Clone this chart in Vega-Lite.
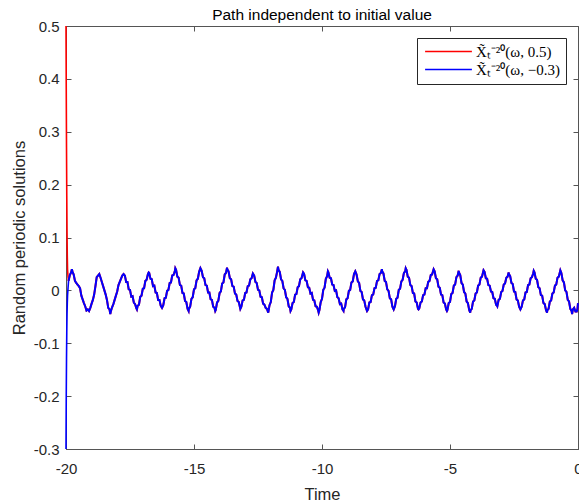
{
"$schema":"https://vega.github.io/schema/vega-lite/v6.json",
"width":512,"height":423,
"autosize":{"type":"none"},
"padding":{"left":66,"top":26,"right":1,"bottom":53},
"background":"white",
"title":{"text":"Path independent to initial value","font":"Liberation Sans","fontSize":15.5,"fontWeight":"normal","color":"#000000","offset":5,"dy":9},
"config":{"view":{"stroke":"#555555","strokeWidth":1},"axis":{"grid":false}},
"datasets":{
"start":[
{"s":"X\u0303\u209c\u207b\u00b2\u2070(\u03c9, 0.5)","t":-20,"y":0.5},
{"s":"X\u0303\u209c\u207b\u00b2\u2070(\u03c9, 0.5)","t":-19.99,"y":0.38},
{"s":"X\u0303\u209c\u207b\u00b2\u2070(\u03c9, 0.5)","t":-19.98,"y":0.27},
{"s":"X\u0303\u209c\u207b\u00b2\u2070(\u03c9, 0.5)","t":-19.97,"y":0.18},
{"s":"X\u0303\u209c\u207b\u00b2\u2070(\u03c9, 0.5)","t":-19.96,"y":0.11},
{"s":"X\u0303\u209c\u207b\u00b2\u2070(\u03c9, 0.5)","t":-19.95,"y":0.065},
{"s":"X\u0303\u209c\u207b\u00b2\u2070(\u03c9, 0.5)","t":-19.94,"y":0.04},
{"s":"X\u0303\u209c\u207b\u00b2\u2070(\u03c9, 0.5)","t":-19.92,"y":0.025},
{"s":"X\u0303\u209c\u207b\u00b2\u2070(\u03c9, 0.5)","t":-19.9,"y":0.018},
{"s":"X\u0303\u209c\u207b\u00b2\u2070(\u03c9, \u22120.3)","t":-20,"y":-0.3},
{"s":"X\u0303\u209c\u207b\u00b2\u2070(\u03c9, \u22120.3)","t":-19.99,"y":-0.2},
{"s":"X\u0303\u209c\u207b\u00b2\u2070(\u03c9, \u22120.3)","t":-19.98,"y":-0.13},
{"s":"X\u0303\u209c\u207b\u00b2\u2070(\u03c9, \u22120.3)","t":-19.97,"y":-0.08},
{"s":"X\u0303\u209c\u207b\u00b2\u2070(\u03c9, \u22120.3)","t":-19.96,"y":-0.045},
{"s":"X\u0303\u209c\u207b\u00b2\u2070(\u03c9, \u22120.3)","t":-19.95,"y":-0.025},
{"s":"X\u0303\u209c\u207b\u00b2\u2070(\u03c9, \u22120.3)","t":-19.94,"y":-0.01},
{"s":"X\u0303\u209c\u207b\u00b2\u2070(\u03c9, \u22120.3)","t":-19.92,"y":0.005},
{"s":"X\u0303\u209c\u207b\u00b2\u2070(\u03c9, \u22120.3)","t":-19.9,"y":0.018}
],
"path":[
{"t":-19.9,"y":0.018},{"t":-19.85,"y":0.029},{"t":-19.8,"y":0.034},{"t":-19.77,"y":0.040},{"t":-19.75,"y":0.036},{"t":-19.7,"y":0.030},{"t":-19.65,"y":0.018},{"t":-19.6,"y":0.014},{"t":-19.55,"y":0.011},{"t":-19.5,"y":0.008},{"t":-19.45,"y":0.004},{"t":-19.4,"y":-0.010},{"t":-19.35,"y":-0.017},{"t":-19.3,"y":-0.024},{"t":-19.25,"y":-0.030},{"t":-19.2,"y":-0.038},{"t":-19.15,"y":-0.036},{"t":-19.1,"y":-0.039},{"t":-19.05,"y":-0.033},{"t":-19.0,"y":-0.025},{"t":-18.95,"y":-0.018},{"t":-18.9,"y":-0.008},{"t":-18.85,"y":0.008},{"t":-18.8,"y":0.025},{"t":-18.75,"y":0.028},{"t":-18.7,"y":0.031},{"t":-18.65,"y":0.024},{"t":-18.6,"y":0.016},{"t":-18.55,"y":0.008},{"t":-18.5,"y":0.000},{"t":-18.45,"y":-0.008},{"t":-18.4,"y":-0.018},{"t":-18.35,"y":-0.033},{"t":-18.3,"y":-0.036},{"t":-18.27,"y":-0.045},{"t":-18.25,"y":-0.040},{"t":-18.2,"y":-0.032},{"t":-18.15,"y":-0.026},{"t":-18.1,"y":-0.018},{"t":-18.05,"y":-0.010},{"t":-18.0,"y":-0.002},{"t":-17.95,"y":0.010},{"t":-17.9,"y":0.016},{"t":-17.85,"y":0.022},{"t":-17.8,"y":0.028},{"t":-17.75,"y":0.031},
{"t":-17.7,"y":0.028},{"t":-17.65,"y":0.016},{"t":-17.6,"y":0.016},{"t":-17.55,"y":0.002},{"t":-17.5,"y":0.001},{"t":-17.45,"y":-0.012},{"t":-17.4,"y":-0.011},{"t":-17.35,"y":-0.023},{"t":-17.3,"y":-0.026},{"t":-17.25,"y":-0.034},{"t":-17.23,"y":-0.036},{"t":-17.2,"y":-0.029},{"t":-17.15,"y":-0.027},{"t":-17.1,"y":-0.012},{"t":-17.05,"y":-0.010},{"t":-17.0,"y":0.003},{"t":-16.95,"y":0.004},{"t":-16.9,"y":0.018},{"t":-16.85,"y":0.020},{"t":-16.8,"y":0.031},{"t":-16.77,"y":0.034},
{"t":-16.75,"y":0.033},{"t":-16.7,"y":0.022},{"t":-16.65,"y":0.021},{"t":-16.6,"y":0.008},{"t":-16.55,"y":0.009},{"t":-16.5,"y":-0.004},{"t":-16.45,"y":-0.005},{"t":-16.4,"y":-0.018},{"t":-16.35,"y":-0.018},{"t":-16.3,"y":-0.029},{"t":-16.25,"y":-0.033},{"t":-16.2,"y":-0.028},{"t":-16.15,"y":-0.015},{"t":-16.1,"y":-0.014},{"t":-16.05,"y":-0.001},{"t":-16.0,"y":0.001},{"t":-15.95,"y":0.014},{"t":-15.9,"y":0.015},{"t":-15.85,"y":0.028},{"t":-15.8,"y":0.029},{"t":-15.75,"y":0.036},{"t":-15.73,"y":0.042},
{"t":-15.7,"y":0.039},{"t":-15.65,"y":0.026},{"t":-15.6,"y":0.024},{"t":-15.55,"y":0.010},{"t":-15.5,"y":0.009},{"t":-15.45,"y":-0.005},{"t":-15.4,"y":-0.006},{"t":-15.35,"y":-0.020},{"t":-15.3,"y":-0.022},{"t":-15.25,"y":-0.035},{"t":-15.21,"y":-0.039},{"t":-15.2,"y":-0.035},{"t":-15.15,"y":-0.031},{"t":-15.1,"y":-0.016},{"t":-15.05,"y":-0.013},{"t":-15.0,"y":0.002},{"t":-14.95,"y":0.004},{"t":-14.9,"y":0.019},{"t":-14.85,"y":0.022},{"t":-14.8,"y":0.035},{"t":-14.75,"y":0.042},
{"t":-14.7,"y":0.037},{"t":-14.65,"y":0.025},{"t":-14.6,"y":0.023},{"t":-14.55,"y":0.010},{"t":-14.5,"y":0.009},{"t":-14.45,"y":-0.004},{"t":-14.4,"y":-0.004},{"t":-14.35,"y":-0.017},{"t":-14.3,"y":-0.018},{"t":-14.25,"y":-0.031},{"t":-14.2,"y":-0.033},{"t":-14.17,"y":-0.039},{"t":-14.15,"y":-0.037},{"t":-14.1,"y":-0.023},{"t":-14.05,"y":-0.020},{"t":-14.0,"y":-0.005},{"t":-13.95,"y":-0.002},{"t":-13.9,"y":0.013},{"t":-13.85,"y":0.015},{"t":-13.8,"y":0.030},{"t":-13.75,"y":0.033},{"t":-13.71,"y":0.043},
{"t":-13.7,"y":0.040},{"t":-13.65,"y":0.036},{"t":-13.6,"y":0.023},{"t":-13.55,"y":0.021},{"t":-13.5,"y":0.008},{"t":-13.45,"y":0.007},{"t":-13.4,"y":-0.006},{"t":-13.35,"y":-0.008},{"t":-13.3,"y":-0.020},{"t":-13.25,"y":-0.022},{"t":-13.19,"y":-0.035},{"t":-13.15,"y":-0.031},{"t":-13.1,"y":-0.019},{"t":-13.05,"y":-0.018},{"t":-13.0,"y":-0.005},{"t":-12.95,"y":-0.004},{"t":-12.9,"y":0.008},{"t":-12.85,"y":0.009},{"t":-12.8,"y":0.021},{"t":-12.75,"y":0.023},{"t":-12.7,"y":0.032},
{"t":-12.65,"y":0.028},{"t":-12.6,"y":0.016},{"t":-12.55,"y":0.014},{"t":-12.5,"y":0.001},{"t":-12.45,"y":0.000},{"t":-12.4,"y":-0.012},{"t":-12.35,"y":-0.013},{"t":-12.3,"y":-0.025},{"t":-12.25,"y":-0.027},{"t":-12.2,"y":-0.033},{"t":-12.15,"y":-0.035},{"t":-12.1,"y":-0.042},{"t":-12.05,"y":-0.028},{"t":-12.0,"y":-0.022},{"t":-11.95,"y":-0.004},{"t":-11.9,"y":0.001},{"t":-11.85,"y":0.019},{"t":-11.8,"y":0.024},{"t":-11.75,"y":0.036},{"t":-11.72,"y":0.045},
{"t":-11.7,"y":0.039},{"t":-11.65,"y":0.035},{"t":-11.6,"y":0.021},{"t":-11.55,"y":0.018},{"t":-11.5,"y":0.004},{"t":-11.45,"y":0.001},{"t":-11.4,"y":-0.013},{"t":-11.35,"y":-0.016},{"t":-11.3,"y":-0.030},{"t":-11.25,"y":-0.033},{"t":-11.23,"y":-0.039},{"t":-11.2,"y":-0.036},{"t":-11.15,"y":-0.024},{"t":-11.1,"y":-0.022},{"t":-11.05,"y":-0.008},{"t":-11.0,"y":-0.007},{"t":-10.95,"y":0.006},{"t":-10.9,"y":0.008},{"t":-10.85,"y":0.021},{"t":-10.8,"y":0.023},{"t":-10.74,"y":0.034},
{"t":-10.7,"y":0.031},{"t":-10.65,"y":0.019},{"t":-10.6,"y":0.018},{"t":-10.55,"y":0.006},{"t":-10.5,"y":0.005},{"t":-10.45,"y":-0.006},{"t":-10.4,"y":-0.005},{"t":-10.35,"y":-0.018},{"t":-10.3,"y":-0.019},{"t":-10.25,"y":-0.030},{"t":-10.2,"y":-0.031},{"t":-10.15,"y":-0.038},{"t":-10.13,"y":-0.042},{"t":-10.1,"y":-0.037},{"t":-10.05,"y":-0.022},{"t":-10.0,"y":-0.016},{"t":-9.95,"y":0.001},{"t":-9.9,"y":0.005},{"t":-9.85,"y":0.022},{"t":-9.8,"y":0.027},{"t":-9.77,"y":0.036},
{"t":-9.75,"y":0.034},{"t":-9.7,"y":0.024},{"t":-9.65,"y":0.023},{"t":-9.6,"y":0.011},{"t":-9.55,"y":0.010},{"t":-9.5,"y":-0.001},{"t":-9.45,"y":0.000},{"t":-9.4,"y":-0.013},{"t":-9.35,"y":-0.015},{"t":-9.3,"y":-0.026},{"t":-9.25,"y":-0.025},{"t":-9.2,"y":-0.036},{"t":-9.16,"y":-0.039},{"t":-9.15,"y":-0.035},{"t":-9.1,"y":-0.032},{"t":-9.05,"y":-0.017},{"t":-9.0,"y":-0.015},{"t":-8.95,"y":-0.001},{"t":-8.9,"y":0.001},{"t":-8.85,"y":0.015},{"t":-8.8,"y":0.017},{"t":-8.75,"y":0.031},{"t":-8.7,"y":0.036},
{"t":-8.65,"y":0.030},{"t":-8.6,"y":0.017},{"t":-8.55,"y":0.014},{"t":-8.5,"y":-0.001},{"t":-8.45,"y":-0.003},{"t":-8.4,"y":-0.017},{"t":-8.35,"y":-0.019},{"t":-8.3,"y":-0.031},{"t":-8.24,"y":-0.039},{"t":-8.2,"y":-0.036},{"t":-8.15,"y":-0.023},{"t":-8.1,"y":-0.022},{"t":-8.05,"y":-0.009},{"t":-8.0,"y":-0.008},{"t":-7.95,"y":0.004},{"t":-7.9,"y":0.005},{"t":-7.85,"y":0.018},{"t":-7.8,"y":0.019},{"t":-7.75,"y":0.031},{"t":-7.7,"y":0.033},{"t":-7.66,"y":0.040},
{"t":-7.65,"y":0.036},{"t":-7.6,"y":0.032},{"t":-7.55,"y":0.018},{"t":-7.5,"y":0.016},{"t":-7.45,"y":0.002},{"t":-7.4,"y":-0.001},{"t":-7.35,"y":-0.015},{"t":-7.3,"y":-0.017},{"t":-7.25,"y":-0.031},{"t":-7.2,"y":-0.036},{"t":-7.15,"y":-0.030},{"t":-7.1,"y":-0.016},{"t":-7.05,"y":-0.014},{"t":-7.0,"y":0.001},{"t":-6.95,"y":0.003},{"t":-6.9,"y":0.017},{"t":-6.85,"y":0.020},{"t":-6.8,"y":0.033},{"t":-6.75,"y":0.036},{"t":-6.73,"y":0.042},
{"t":-6.7,"y":0.039},{"t":-6.65,"y":0.026},{"t":-6.6,"y":0.024},{"t":-6.55,"y":0.010},{"t":-6.5,"y":0.008},{"t":-6.45,"y":-0.005},{"t":-6.4,"y":-0.006},{"t":-6.35,"y":-0.021},{"t":-6.3,"y":-0.023},{"t":-6.25,"y":-0.035},{"t":-6.23,"y":-0.036},{"t":-6.2,"y":-0.034},{"t":-6.15,"y":-0.023},{"t":-6.1,"y":-0.021},{"t":-6.05,"y":-0.009},{"t":-6.0,"y":-0.008},{"t":-5.95,"y":0.004},{"t":-5.9,"y":0.004},{"t":-5.85,"y":0.016},{"t":-5.8,"y":0.018},{"t":-5.75,"y":0.029},{"t":-5.7,"y":0.030},{"t":-5.64,"y":0.040},
{"t":-5.6,"y":0.036},{"t":-5.55,"y":0.023},{"t":-5.5,"y":0.021},{"t":-5.45,"y":0.007},{"t":-5.4,"y":0.005},{"t":-5.35,"y":-0.008},{"t":-5.3,"y":-0.009},{"t":-5.25,"y":-0.023},{"t":-5.2,"y":-0.025},{"t":-5.15,"y":-0.036},{"t":-5.12,"y":-0.039},{"t":-5.1,"y":-0.037},{"t":-5.05,"y":-0.024},{"t":-5.0,"y":-0.022},{"t":-4.95,"y":-0.007},{"t":-4.9,"y":-0.005},{"t":-4.85,"y":0.009},{"t":-4.8,"y":0.011},{"t":-4.75,"y":0.025},{"t":-4.7,"y":0.028},{"t":-4.66,"y":0.037},
{"t":-4.65,"y":0.034},{"t":-4.6,"y":0.029},{"t":-4.55,"y":0.014},{"t":-4.5,"y":0.011},{"t":-4.45,"y":-0.003},{"t":-4.4,"y":-0.006},{"t":-4.35,"y":-0.021},{"t":-4.3,"y":-0.024},{"t":-4.25,"y":-0.037},{"t":-4.21,"y":-0.042},{"t":-4.2,"y":-0.038},{"t":-4.15,"y":-0.035},{"t":-4.1,"y":-0.021},{"t":-4.05,"y":-0.019},{"t":-4.0,"y":-0.006},{"t":-3.95,"y":-0.004},{"t":-3.9,"y":0.009},{"t":-3.85,"y":0.011},{"t":-3.8,"y":0.024},{"t":-3.75,"y":0.026},{"t":-3.69,"y":0.038},
{"t":-3.65,"y":0.035},{"t":-3.6,"y":0.023},{"t":-3.55,"y":0.022},{"t":-3.5,"y":0.010},{"t":-3.45,"y":0.009},{"t":-3.4,"y":-0.002},{"t":-3.35,"y":-0.003},{"t":-3.3,"y":-0.015},{"t":-3.25,"y":-0.016},{"t":-3.2,"y":-0.027},{"t":-3.16,"y":-0.029},{"t":-3.15,"y":-0.030},{"t":-3.1,"y":-0.018},{"t":-3.05,"y":-0.016},{"t":-3.0,"y":-0.003},{"t":-2.95,"y":-0.001},{"t":-2.9,"y":0.011},{"t":-2.85,"y":0.013},{"t":-2.8,"y":0.024},{"t":-2.75,"y":0.026},{"t":-2.71,"y":0.034},
{"t":-2.7,"y":0.031},{"t":-2.65,"y":0.027},{"t":-2.6,"y":0.014},{"t":-2.55,"y":0.012},{"t":-2.5,"y":-0.002},{"t":-2.45,"y":-0.003},{"t":-2.4,"y":-0.017},{"t":-2.35,"y":-0.019},{"t":-2.3,"y":-0.031},{"t":-2.25,"y":-0.036},{"t":-2.2,"y":-0.031},{"t":-2.15,"y":-0.019},{"t":-2.1,"y":-0.017},{"t":-2.05,"y":-0.004},{"t":-2.0,"y":-0.003},{"t":-1.95,"y":0.010},{"t":-1.9,"y":0.011},{"t":-1.85,"y":0.023},{"t":-1.8,"y":0.025},{"t":-1.75,"y":0.032},{"t":-1.73,"y":0.037},
{"t":-1.7,"y":0.034},{"t":-1.65,"y":0.022},{"t":-1.6,"y":0.020},{"t":-1.55,"y":0.006},{"t":-1.5,"y":0.004},{"t":-1.45,"y":-0.009},{"t":-1.4,"y":-0.010},{"t":-1.35,"y":-0.024},{"t":-1.3,"y":-0.026},{"t":-1.25,"y":-0.037},{"t":-1.21,"y":-0.042},{"t":-1.2,"y":-0.038},{"t":-1.15,"y":-0.035},{"t":-1.1,"y":-0.021},{"t":-1.05,"y":-0.019},{"t":-1.0,"y":-0.006},{"t":-0.95,"y":-0.004},{"t":-0.9,"y":0.009},{"t":-0.85,"y":0.011},{"t":-0.8,"y":0.024},{"t":-0.75,"y":0.026},{"t":-0.69,"y":0.038},
{"t":-0.65,"y":0.033},{"t":-0.6,"y":0.019},{"t":-0.55,"y":0.015},{"t":-0.5,"y":0.000},{"t":-0.45,"y":-0.003},{"t":-0.4,"y":-0.018},{"t":-0.35,"y":-0.021},{"t":-0.3,"y":-0.035},{"t":-0.25,"y":-0.039},{"t":-0.23,"y":-0.045},{"t":-0.2,"y":-0.036},{"t":-0.15,"y":-0.033},{"t":-0.1,"y":-0.040},{"t":-0.05,"y":-0.040},{"t":-0.02,"y":-0.035},{"t":0,"y":-0.024}
]},
"layer":[
{"data":{"name":"path"},"mark":{"type":"line","color":"#ff0000","strokeWidth":2},
 "encoding":{"x":{"field":"t","type":"quantitative","scale":{"domain":[-20,0],"nice":false,"zero":false},"axis":null},
  "y":{"field":"y","type":"quantitative","scale":{"domain":[-0.3,0.5],"nice":false,"zero":false},"axis":null}}},
{"data":{"name":"start"},"mark":{"type":"line","strokeWidth":1.6},
 "encoding":{"x":{"field":"t","type":"quantitative","scale":{"domain":[-20,0],"nice":false,"zero":false},
   "axis":{"orient":"bottom","values":[-20,-15,-10,-5,0],"tickSize":-5,"labelPadding":17,"labelFlush":false,"domainColor":"#555555","tickColor":"#555555","labelColor":"#262626","labelFont":"Liberation Sans","labelFontSize":15,"labelExpr":"replace(datum.label,'\u2212','-')","title":"Time","titleFont":"Liberation Sans","titleFontSize":16.5,"titleFontWeight":"normal","titleColor":"#262626","titlePadding":10}},
  "y":{"field":"y","type":"quantitative","scale":{"domain":[-0.3,0.5],"nice":false,"zero":false},
   "axis":{"orient":"left","values":[-0.3,-0.2,-0.1,0,0.1,0.2,0.3,0.4,0.5],"format":".1~f","tickSize":-5,"labelPadding":12,"labelFlush":false,"domainColor":"#555555","tickColor":"#555555","labelColor":"#262626","labelFont":"Liberation Sans","labelFontSize":15,"labelExpr":"replace(datum.label,'\u2212','-')","title":"Random periodic solutions","titleFont":"Liberation Sans","titleFontSize":16.5,"titleFontWeight":"normal","titleColor":"#262626","titlePadding":6}},
  "color":{"field":"s","type":"nominal","sort":null,
   "scale":{"domain":["X\u0303\u209c\u207b\u00b2\u2070(\u03c9, 0.5)","X\u0303\u209c\u207b\u00b2\u2070(\u03c9, \u22120.3)"],"range":["#ff0000","#0000ff"]},
   "legend":{"title":null,"orient":"top-right","offset":12,"strokeColor":"#262626","fillColor":"white","padding":6,"symbolType":"M-3.9,0H3.9","symbolSize":144,"symbolOffset":18,"symbolStrokeWidth":1.5,"labelFont":"Liberation Serif","labelFontSize":15,"labelColor":"#000000","rowPadding":2,"labelOffset":20}}}},
{"data":{"name":"path"},"mark":{"type":"line","color":"#0000ff","strokeWidth":2},
 "encoding":{"x":{"field":"t","type":"quantitative","scale":{"domain":[-20,0],"nice":false,"zero":false},
   "axis":{"orient":"top","values":[-20,-15,-10,-5,0],"tickSize":-5,"labels":false,"domain":false,"tickColor":"#555555","title":null}},
  "y":{"field":"y","type":"quantitative","scale":{"domain":[-0.3,0.5],"nice":false,"zero":false},
   "axis":{"orient":"right","values":[-0.3,-0.2,-0.1,0,0.1,0.2,0.3,0.4,0.5],"tickSize":-5,"labels":false,"domain":false,"tickColor":"#555555","title":null}}}}
],
"resolve":{"axis":{"x":"independent","y":"independent"}}
}
